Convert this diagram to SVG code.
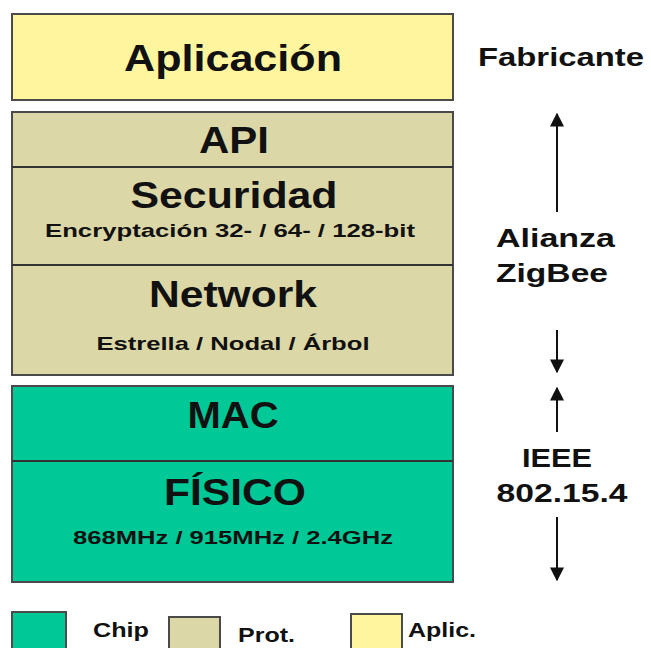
<svg xmlns="http://www.w3.org/2000/svg" width="651" height="648" viewBox="0 0 651 648">
<style>
.box{stroke:#4a4a4a;stroke-width:2}
.app{fill:#FFF59E}
.prot{fill:#DCD7A7}
.chip{fill:#00C897}
.div{stroke:#333;stroke-width:2}
text{font-family:"Liberation Sans",Arial,sans-serif;font-weight:bold;fill:#111}
.big{font-size:36px;text-anchor:middle}
.small{font-size:19px;text-anchor:middle}
.side{font-size:25px}
.leg{font-size:20px}
.arr{stroke:#111;stroke-width:2;fill:none}
</style>
<defs>
<marker id="ah2" viewBox="0 0 10 10" refX="9" refY="5" markerWidth="14" markerHeight="14" markerUnits="userSpaceOnUse" orient="auto">
<path d="M0,0 L10,5 L0,10 z" fill="#111"/>
</marker>
</defs>
<rect width="651" height="648" fill="#fff"/>
<g id="aplicacion">
<rect class="box app" x="12" y="14" width="441" height="86"/>
<text class="big" x="233" y="71" textLength="218" lengthAdjust="spacingAndGlyphs">Aplicación</text>
</g>
<g id="protocolo">
<rect class="box prot" x="12" y="112" width="441" height="263"/>
<line class="div" x1="12" y1="167" x2="453" y2="167"/>
<line class="div" x1="12" y1="265" x2="453" y2="265"/>
</g>
<g id="api">
<text class="big" x="234" y="153" textLength="70" lengthAdjust="spacingAndGlyphs">API</text>
</g>
<g id="securidad">
<text class="big" x="234" y="208" textLength="207" lengthAdjust="spacingAndGlyphs">Securidad</text>
<text class="small" x="230" y="237" textLength="370" lengthAdjust="spacingAndGlyphs">Encryptación 32- / 64- / 128-bit</text>
</g>
<g id="network">
<text class="big" x="233" y="307" textLength="168" lengthAdjust="spacingAndGlyphs">Network</text>
<text class="small" x="233" y="350" textLength="273" lengthAdjust="spacingAndGlyphs">Estrella / Nodal / Árbol</text>
</g>
<g id="chipstack">
<rect class="box chip" x="12" y="386" width="441" height="196"/>
<line class="div" x1="12" y1="461" x2="453" y2="461"/>
</g>
<g id="mac">
<text class="big" x="233" y="428" textLength="91" lengthAdjust="spacingAndGlyphs">MAC</text>
</g>
<g id="fisico">
<text class="big" x="235" y="505" textLength="142" lengthAdjust="spacingAndGlyphs">FÍSICO</text>
<text class="small" x="233" y="544" textLength="320" lengthAdjust="spacingAndGlyphs">868MHz / 915MHz / 2.4GHz</text>
</g>
<g id="fabricante">
<text class="side" x="478" y="66" font-size="27" textLength="166" lengthAdjust="spacingAndGlyphs">Fabricante</text>
</g>
<g id="alianza">
<text class="side" x="496" y="247" textLength="119" lengthAdjust="spacingAndGlyphs">Alianza</text>
<text class="side" x="496" y="282" textLength="112" lengthAdjust="spacingAndGlyphs">ZigBee</text>
</g>
<g id="ieee">
<text class="side" x="557" y="467" text-anchor="middle" textLength="70" lengthAdjust="spacingAndGlyphs">IEEE</text>
<text class="side" x="562" y="502" text-anchor="middle" textLength="131" lengthAdjust="spacingAndGlyphs">802.15.4</text>
</g>
<g id="connectors">
<line class="arr" x1="557" y1="212" x2="557" y2="114" marker-end="url(#ah2)"/>
<line class="arr" x1="557" y1="330" x2="557" y2="372" marker-end="url(#ah2)"/>
<line class="arr" x1="557" y1="432" x2="557" y2="388" marker-end="url(#ah2)"/>
<line class="arr" x1="557" y1="517" x2="557" y2="580" marker-end="url(#ah2)"/>
</g>
<g id="legend">
<rect class="box chip" x="12" y="612" width="54" height="40"/>
<text class="leg" x="93" y="637" textLength="56" lengthAdjust="spacingAndGlyphs">Chip</text>
<rect class="box prot" x="169" y="617" width="51" height="35"/>
<text class="leg" x="238" y="642" textLength="57" lengthAdjust="spacingAndGlyphs">Prot.</text>
<rect class="box app" x="351" y="614" width="51" height="38"/>
<text class="leg" x="408" y="637" textLength="68" lengthAdjust="spacingAndGlyphs">Aplic.</text>
</g>
</svg>
